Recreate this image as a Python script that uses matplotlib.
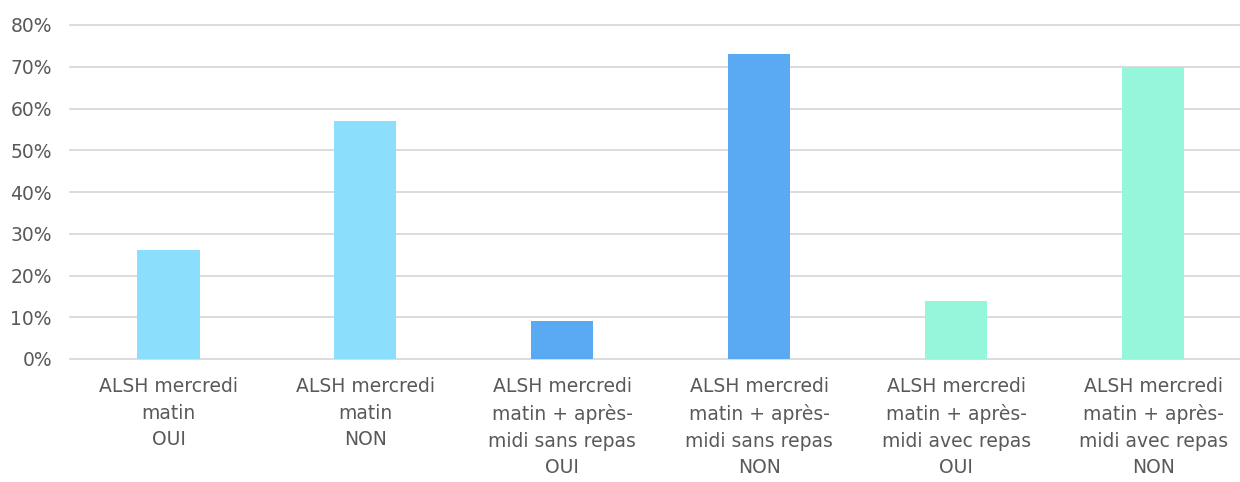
import numpy as np
import matplotlib.pyplot as plt
from matplotlib.ticker import PercentFormatter

categories = [
    "ALSH mercredi\nmatin\nOUI",
    "ALSH mercredi\nmatin\nNON",
    "ALSH mercredi\nmatin + après-\nmidi sans repas\nOUI",
    "ALSH mercredi\nmatin + après-\nmidi sans repas\nNON",
    "ALSH mercredi\nmatin + après-\nmidi avec repas\nOUI",
    "ALSH mercredi\nmatin + après-\nmidi avec repas\nNON",
]
values = [26, 57, 9, 73, 14, 70]
colors = ["#8BDFFD", "#8BDFFD", "#5AAAF3", "#5AAAF3", "#95F6DC", "#95F6DC"]

text_color = "#595959"

fig = plt.figure(figsize=(12.4, 4.82), dpi=100)
ax = fig.add_axes([70 / 1240, 1 - 359 / 482, 1170 / 1240, (359 - 25) / 482])

x = np.arange(len(values))
ax.bar(x, values, width=0.315, color=colors, zorder=3)

ax.set_ylim(0, 80)
ax.set_yticks(np.arange(0, 81, 10))
ax.yaxis.set_major_formatter(PercentFormatter(decimals=0))
ax.set_xlim(-0.5, 5.44)
ax.set_xticks(x)
ax.set_xticklabels(categories, linespacing=1.5)

ax.grid(axis="y", color="#D9D9D9", linewidth=1.3, zorder=0)
for gl in ax.get_ygridlines():
    gl.set_clip_on(False)
for s in ax.spines.values():
    s.set_visible(False)
ax.tick_params(axis="both", length=0, colors=text_color, labelsize=13.5)
ax.tick_params(axis="x", pad=13)
ax.tick_params(axis="y", pad=13)

fig.savefig("out.png", dpi=100)
